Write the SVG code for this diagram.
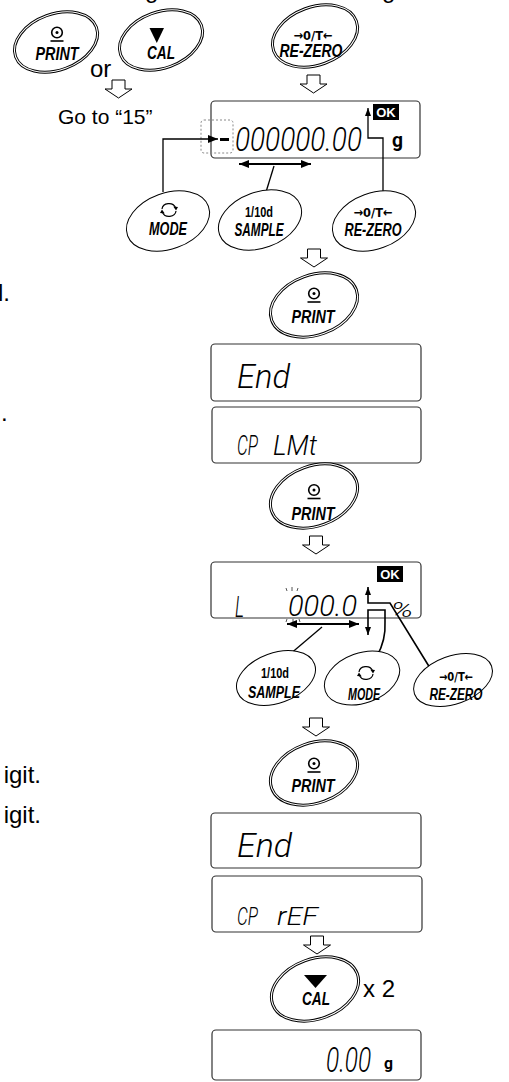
<svg xmlns="http://www.w3.org/2000/svg" width="509" height="1082" viewBox="0 0 509 1082">
<style>
.body{font-family:"Liberation Sans",Arial,sans-serif;font-size:24px;fill:#000}
.lbl{font-family:"Liberation Sans Narrow","Liberation Sans",Arial,sans-serif;font-weight:bold;font-style:italic;font-size:18px;text-anchor:middle;fill:#000}
.sym{font-family:"Liberation Sans Narrow","Liberation Sans",Arial,sans-serif;font-weight:bold;font-size:14px;text-anchor:middle;fill:#000}
.arrsym{font-family:"DejaVu Sans",sans-serif;font-weight:bold;font-size:13px;text-anchor:middle;fill:#000}
.seg{font-family:Roboto,"Liberation Sans",Arial,sans-serif;font-style:italic;font-weight:300;fill:#000}
.dbl{fill:#fff;stroke:#000;stroke-width:3}
.dblw{fill:none;stroke:#fff;stroke-width:1.1}
.sgl{fill:#fff;stroke:#000;stroke-width:1}
.disp{fill:#fff;stroke:#333;stroke-width:1.2}
.oktxt{font-family:"Liberation Sans",Arial,sans-serif;font-weight:bold;font-size:13px;fill:#fff;text-anchor:middle}
.ln{fill:none;stroke:#000;stroke-width:1.3}
.ln2{fill:none;stroke:#000;stroke-width:1.6}
.dbar{fill:none;stroke:#000;stroke-width:2}
.harrow{fill:#fff;stroke:#000;stroke-width:1}
.tick{stroke:#555;stroke-width:1}
</style>
<defs>
<marker id="ah" viewBox="0 0 10 8" refX="10" refY="4" markerWidth="10" markerHeight="8" markerUnits="userSpaceOnUse" orient="auto-start-reverse"><path d="M0,0 L10,4 L0,8 Z"/></marker>
<marker id="ahs" viewBox="0 0 8 6" refX="8" refY="3" markerWidth="8" markerHeight="6" markerUnits="userSpaceOnUse" orient="auto"><path d="M0,0 L8,3 L0,6 Z"/></marker>
<path id="harrow" class="harrow" d="M-6.5,0 H6.5 V9 H13.5 L0,18 L-13.5,9 H-6.5 Z"/>
<g id="printicon"><circle r="5.3" fill="none" stroke="#000" stroke-width="1.6"/><circle r="1.5" fill="#000"/><line x1="-6.5" y1="8.5" x2="6.5" y2="8.5" stroke="#000" stroke-width="1.6"/></g>
<g id="modeicon"><path d="M-7,-1 A7,6 0 0 1 6.5,-2.5" fill="none" stroke="#000" stroke-width="1.2"/><polygon points="4.3,-3.5 9,-3 7,0.5"/><path d="M7,1 A7,6 0 0 1 -6.5,2.5" fill="none" stroke="#000" stroke-width="1.2"/><polygon points="-4.3,3.5 -9,3 -7,-0.5"/></g>
</defs>
<rect width="509" height="1082" fill="#fff"/>

<g id="left-texts">
<text class="body" x="145" y="-2">g</text>
<text class="body" x="382" y="-2">g</text>
<text class="body" x="90" y="77">or</text>
<text class="body" x="58" y="124" style="font-size:21px">Go to “15”</text>
<text class="body" x="-2" y="301">l.</text>
<text class="body" x="1" y="421">.</text>
<text class="body" x="41" y="783" text-anchor="end">igit.</text>
<text class="body" x="41" y="823" text-anchor="end">igit.</text>
<text class="body" x="363" y="997">x 2</text>
</g>

<g id="hollow-arrows">
<use href="#harrow" x="118.5" y="80"/>
<use href="#harrow" x="313.5" y="75"/>
<use href="#harrow" x="314" y="249"/>
<use href="#harrow" x="316" y="536"/>
<use href="#harrow" x="316" y="718"/>
<use href="#harrow" x="317" y="936"/>
</g>

<g id="display-1">
<rect class="disp" x="211" y="101" width="209" height="57" rx="4"/>
<rect x="201" y="120" width="32" height="33" rx="3" fill="none" stroke="#888" stroke-width="1" stroke-dasharray="2,2"/>
<rect x="373" y="104" width="26" height="16" fill="#000"/>
<text class="oktxt" x="386" y="117">OK</text>
<rect x="220" y="138" width="9" height="3" fill="#000"/>
<text class="seg" x="235" y="151" style="font-size:33px" textLength="127" lengthAdjust="spacingAndGlyphs">000000.00</text>
<text class="seg" x="392" y="147" style="font-size:20px;font-weight:bold;font-style:normal" textLength="11" lengthAdjust="spacingAndGlyphs">g</text>
</g>

<g id="display-2">
<rect class="disp" x="211" y="344" width="210" height="57" rx="4"/>
<text class="seg" x="237" y="388" style="font-size:34px" textLength="53" lengthAdjust="spacingAndGlyphs">End</text>
</g>

<g id="display-3">
<rect class="disp" x="212" y="407" width="209" height="56" rx="4"/>
<text class="seg" x="237" y="455" style="font-size:28px" textLength="21" lengthAdjust="spacingAndGlyphs">CP</text>
<text class="seg" x="273" y="455" style="font-size:28px" textLength="44" lengthAdjust="spacingAndGlyphs">LMt</text>
</g>

<g id="display-4">
<rect class="disp" x="211" y="562" width="210" height="56" rx="4"/>
<rect x="377" y="566" width="26" height="16" fill="#000"/>
<text class="oktxt" x="390" y="579">OK</text>
<text class="seg" x="235" y="617" style="font-size:30px" textLength="9" lengthAdjust="spacingAndGlyphs">L</text>
<text class="seg" x="288" y="616" style="font-size:30px" textLength="69" lengthAdjust="spacingAndGlyphs">000.0</text>
<text class="seg" x="391" y="617" style="font-size:21px" textLength="22" lengthAdjust="spacingAndGlyphs">%</text>
<line class="tick" x1="286" y1="588" x2="287" y2="591"/>
<line class="tick" x1="292" y1="587" x2="292" y2="591"/>
<line class="tick" x1="298" y1="588" x2="297" y2="591"/>
<line class="tick" x1="287" y1="619" x2="286" y2="622"/>
<line class="tick" x1="293" y1="619" x2="293" y2="622"/>
<line class="tick" x1="299" y1="619" x2="300" y2="622"/>
</g>

<g id="display-5">
<rect class="disp" x="211" y="813" width="210" height="55" rx="4"/>
<text class="seg" x="237" y="857" style="font-size:34px" textLength="55" lengthAdjust="spacingAndGlyphs">End</text>
</g>

<g id="display-6">
<rect class="disp" x="212" y="876" width="210" height="56" rx="4"/>
<text class="seg" x="237" y="925" style="font-size:26px" textLength="21" lengthAdjust="spacingAndGlyphs">CP</text>
<text class="seg" x="277" y="925" style="font-size:26px" textLength="41" lengthAdjust="spacingAndGlyphs">rEF</text>
</g>

<g id="display-7">
<rect class="disp" x="212" y="1030" width="209" height="50" rx="4"/>
<text class="seg" transform="translate(326,1072) scale(0.7,1)" style="font-size:35px">0.00</text>
<text class="seg" x="384" y="1069" style="font-size:17px;font-weight:bold;font-style:normal" textLength="9" lengthAdjust="spacingAndGlyphs">g</text>
</g>

<g id="connectors">
<path class="ln" d="M163,192 V139 H218" marker-end="url(#ah)"/>
<path class="dbar" d="M239,164 H311" marker-start="url(#ah)" marker-end="url(#ah)"/>
<path class="ln" d="M274,166 L266,192"/>
<path class="ln" d="M383,194 V138 H368 V108" marker-end="url(#ahs)"/>
<path class="ln2" d="M430,668 L390,603 H368 V587" marker-end="url(#ahs)"/>
<path class="ln2" d="M377,656 Q386,640 385,622 V610 H368 V635" marker-end="url(#ahs)"/>
<path class="dbar" d="M287,624 H359" marker-start="url(#ah)" marker-end="url(#ah)"/>
<path class="ln" d="M322,627 L289,655"/>
</g>

<g id="btn-print-top">
<g transform="translate(56,42) rotate(-20)"><ellipse class="dbl" rx="43" ry="28"/><ellipse class="dblw" rx="43" ry="28"/></g>
<use href="#printicon" x="57" y="32.5"/>
<text class="lbl" x="57" y="60" textLength="43" lengthAdjust="spacingAndGlyphs">PRINT</text>
</g>
<g id="btn-cal-top">
<g transform="translate(161,40) rotate(-20)"><ellipse class="dbl" rx="43" ry="28"/><ellipse class="dblw" rx="43" ry="28"/></g>
<polygon points="149.5,28 164,28 156.8,43"/>
<text class="lbl" x="161" y="59" textLength="28" lengthAdjust="spacingAndGlyphs">CAL</text>
</g>
<g id="btn-rezero-top">
<g transform="translate(315,36) rotate(-20)"><ellipse class="dbl" rx="44" ry="29"/><ellipse class="dblw" rx="44" ry="29"/></g>
<text class="arrsym" x="313" y="39.5" textLength="39" lengthAdjust="spacingAndGlyphs">→0/T←</text>
<text class="lbl" x="311" y="57" textLength="63" lengthAdjust="spacingAndGlyphs">RE-ZERO</text>
</g>

<g id="btn-mode-1">
<g transform="translate(168,221) rotate(-20)"><ellipse class="sgl" rx="43" ry="28"/></g>
<use href="#modeicon" x="169" y="210"/>
<text class="lbl" x="168" y="235" textLength="38" lengthAdjust="spacingAndGlyphs">MODE</text>
</g>
<g id="btn-sample-1">
<g transform="translate(260,220) rotate(-20)"><ellipse class="sgl" rx="43" ry="28"/></g>
<text class="sym" x="259" y="217" style="font-size:15px" textLength="28" lengthAdjust="spacingAndGlyphs">1/10d</text>
<text class="lbl" x="259" y="236" textLength="49" lengthAdjust="spacingAndGlyphs">SAMPLE</text>
</g>
<g id="btn-rezero-1">
<g transform="translate(374,221) rotate(-20)"><ellipse class="sgl" rx="43" ry="28"/></g>
<text class="arrsym" x="373" y="217" textLength="39" lengthAdjust="spacingAndGlyphs">→0/T←</text>
<text class="lbl" x="373" y="236" textLength="57" lengthAdjust="spacingAndGlyphs">RE-ZERO</text>
</g>

<g id="btn-print-1">
<g transform="translate(314,305) rotate(-20)"><ellipse class="dbl" rx="45" ry="30"/><ellipse class="dblw" rx="45" ry="30"/></g>
<use href="#printicon" x="314" y="293.5"/>
<text class="lbl" x="313" y="323" textLength="43" lengthAdjust="spacingAndGlyphs">PRINT</text>
</g>

<g id="btn-print-2">
<g transform="translate(314,496) rotate(-20)"><ellipse class="dbl" rx="45" ry="30"/><ellipse class="dblw" rx="45" ry="30"/></g>
<use href="#printicon" x="314" y="490"/>
<text class="lbl" x="313" y="520" textLength="43" lengthAdjust="spacingAndGlyphs">PRINT</text>
</g>

<g id="btn-sample-2">
<g transform="translate(276,678) rotate(-20)"><ellipse class="sgl" rx="41" ry="25"/></g>
<text class="sym" x="275" y="678" style="font-size:14px" textLength="28" lengthAdjust="spacingAndGlyphs">1/10d</text>
<text class="lbl" x="274" y="698" style="font-size:16px" textLength="52" lengthAdjust="spacingAndGlyphs">SAMPLE</text>
</g>
<g id="btn-mode-2">
<g transform="translate(362,678) rotate(-20)"><ellipse class="sgl" rx="39" ry="25"/></g>
<use href="#modeicon" x="366" y="673"/>
<text class="lbl" x="364" y="700" style="font-size:16px" textLength="32" lengthAdjust="spacingAndGlyphs">MODE</text>
</g>
<g id="btn-rezero-2">
<g transform="translate(453,680) rotate(-20)"><ellipse class="sgl" rx="41" ry="24"/></g>
<text class="arrsym" x="456" y="681" style="font-size:12px" textLength="34" lengthAdjust="spacingAndGlyphs">→0/T←</text>
<text class="lbl" x="456" y="700" style="font-size:16px" textLength="53" lengthAdjust="spacingAndGlyphs">RE-ZERO</text>
</g>

<g id="btn-print-3">
<g transform="translate(314,773) rotate(-20)"><ellipse class="dbl" rx="45" ry="30"/><ellipse class="dblw" rx="45" ry="30"/></g>
<use href="#printicon" x="314" y="763.5"/>
<text class="lbl" x="313" y="792" textLength="43" lengthAdjust="spacingAndGlyphs">PRINT</text>
</g>

<g id="btn-cal-2">
<g transform="translate(315,989) rotate(-20)"><ellipse class="dbl" rx="45" ry="30"/><ellipse class="dblw" rx="45" ry="30"/></g>
<polygon points="304,975 327,975 315.5,988"/>
<text class="lbl" x="316" y="1005" textLength="28" lengthAdjust="spacingAndGlyphs">CAL</text>
</g>
</svg>
